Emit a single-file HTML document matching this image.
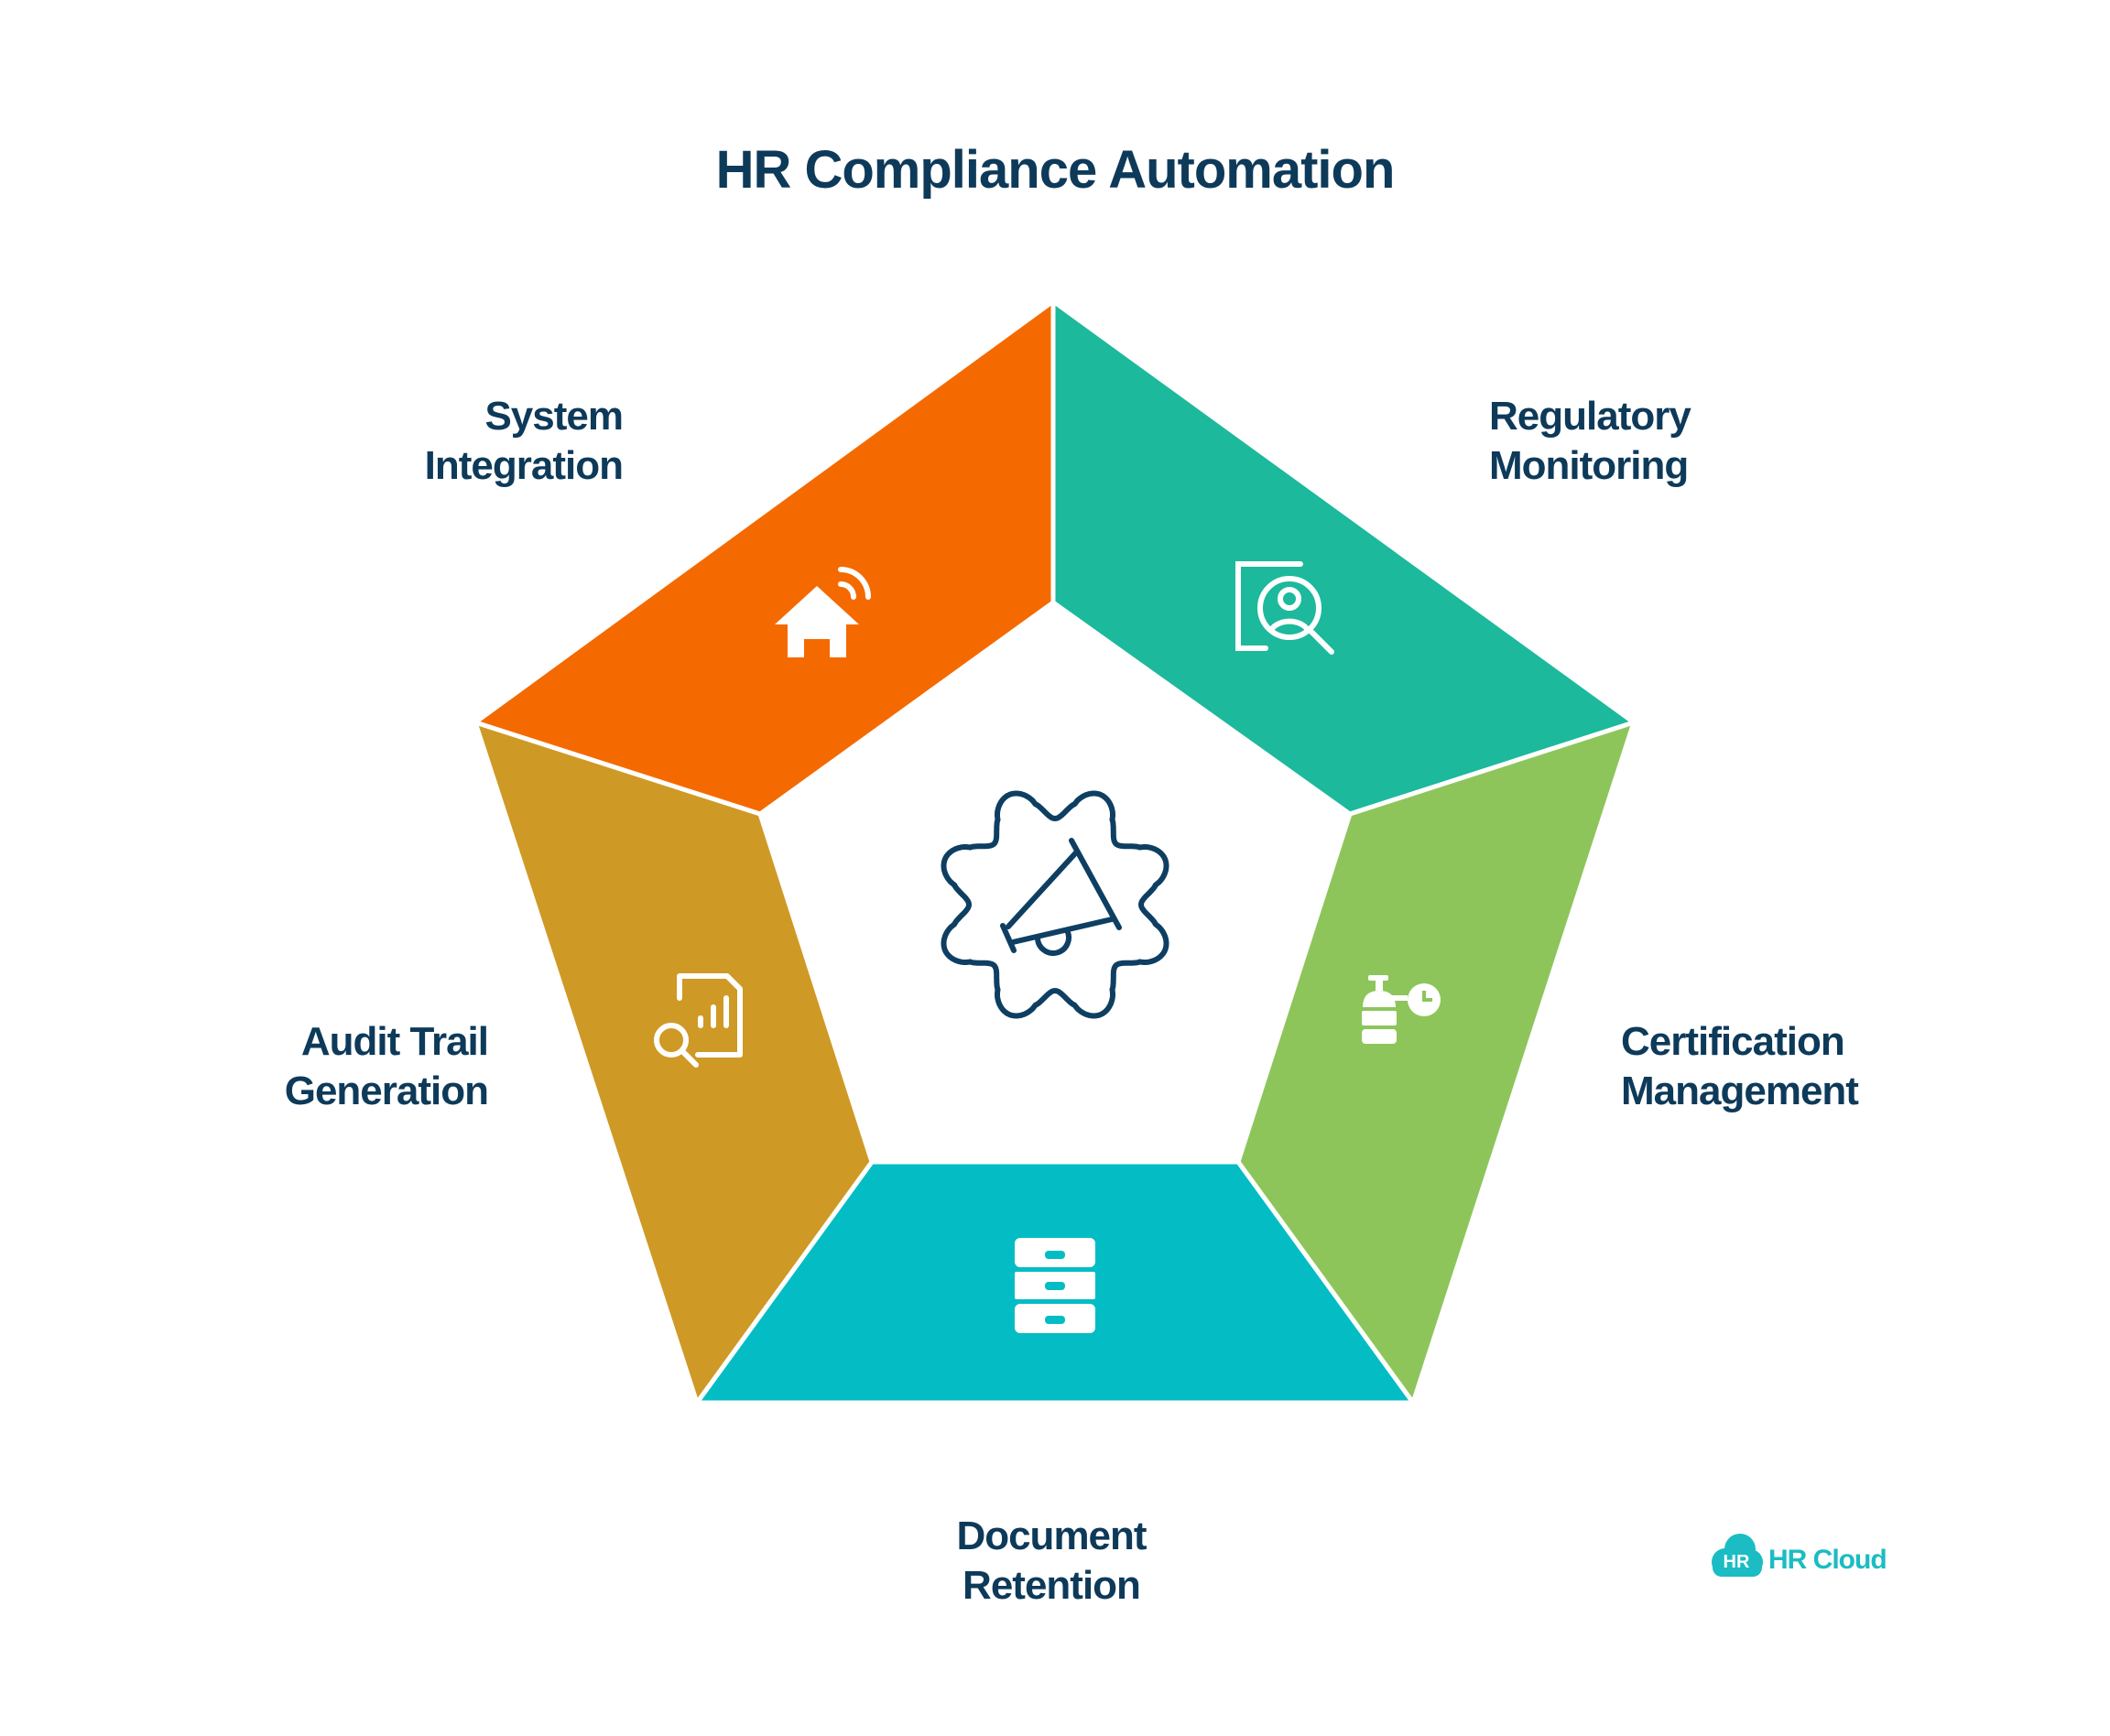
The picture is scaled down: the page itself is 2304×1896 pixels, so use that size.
<!DOCTYPE html>
<html><head><meta charset="utf-8"><style>
html,body{margin:0;padding:0;background:#fff}
body{width:2304px;height:1896px;position:relative;overflow:hidden;font-family:"Liberation Sans",sans-serif;color:#0e3a5a}
.t{position:absolute;font-weight:bold;font-size:44px;line-height:54px;letter-spacing:-1px}
</style></head><body>
<div class="t" style="left:0;width:2304px;top:148px;text-align:center;font-size:58px;line-height:76px">HR Compliance Automation</div>
<div class="t" style="right:1624px;top:428px;text-align:right">System<br>Integration</div>
<div class="t" style="left:1626px;top:428px">Regulatory<br>Monitoring</div>
<div class="t" style="right:1771px;top:1111px;text-align:right">Audit Trail<br>Generation</div>
<div class="t" style="left:1770px;top:1111px">Certification<br>Management</div>
<div class="t" style="left:0;width:2296px;top:1651px;text-align:center">Document<br>Retention</div>
<svg width="2304" height="1896" style="position:absolute;left:0;top:0">
<g stroke="#fff" stroke-width="5" stroke-linejoin="miter">
<polygon points="1150,329 1150,658 830,889 519,789" fill="#f46a00"/>
<polygon points="1150,329 1784,789 1474,889 1150,658" fill="#1cb99c"/>
<polygon points="1784,789 1543,1532 1352,1269 1474,889" fill="#8dc55b"/>
<polygon points="1543,1532 761,1532 952,1269 1352,1269" fill="#04bdc4"/>
<polygon points="761,1532 519,789 830,889 952,1269" fill="#cf9925"/>
</g>
<path id="gear" fill="none" stroke="#0e3f62" stroke-width="6"/>
<g fill="none" stroke="#0e3f62" stroke-width="6" stroke-linecap="round">
<line x1="1170" y1="918" x2="1222" y2="1013"/>
<line x1="1176" y1="930" x2="1101" y2="1012"/>
<line x1="1214" y1="1004" x2="1106" y2="1029"/>
<line x1="1095" y1="1011" x2="1107" y2="1038"/>
<path d="M1133 1024 a17 17 0 1 0 32 -8"/>
</g>
<g fill="#fff">
<polygon points="892,640 846,682 860,682 860,718 878,718 878,698 906,698 906,718 924,718 924,682 938,682"/>
</g>
<g fill="none" stroke="#fff" stroke-width="6" stroke-linecap="round">
<path d="M918 638 a14 14 0 0 1 14 14"/>
<path d="M918 622 a30 30 0 0 1 30 30"/>
</g>
<g fill="none" stroke="#fff" stroke-width="6" stroke-linecap="round">
<path d="M1420 616 h-68 v92 h30"/>
<circle cx="1408" cy="664" r="32"/>
<circle cx="1408" cy="654" r="10"/>
<path d="M1388 688 a22 16 0 0 1 40 0"/>
<line x1="1432" y1="690" x2="1454" y2="712"/>
</g>
<g fill="#fff">
<rect x="1494" y="1065" width="22" height="6" rx="2"/>
<rect x="1502" y="1070" width="8" height="12"/>
<path d="M1488 1100 q0 -18 18 -18 q18 0 18 18 z"/>
<rect x="1487" y="1104" width="38" height="16" rx="2"/>
<rect x="1487" y="1124" width="38" height="16" rx="4"/>
<rect x="1515" y="1087" width="22" height="6"/>
<circle cx="1555" cy="1092" r="18"/>
</g>
<path d="M1555 1082 v10 h9" stroke="#8dc55b" stroke-width="4" fill="none"/>
<g fill="#fff">
<rect x="1108" y="1352" width="88" height="32" rx="6"/>
<rect x="1108" y="1389" width="88" height="30" rx="2"/>
<rect x="1108" y="1424" width="88" height="32" rx="6"/>
</g>
<g fill="#04bdc4">
<rect x="1141" y="1366" width="22" height="9" rx="4"/>
<rect x="1141" y="1400" width="22" height="9" rx="4"/>
<rect x="1141" y="1437" width="22" height="9" rx="4"/>
</g>
<g fill="none" stroke="#fff" stroke-width="6" stroke-linecap="round" stroke-linejoin="round">
<path d="M742 1090 v-24 h52 l14 14 v72 h-46"/>
<line x1="765" y1="1120" x2="765" y2="1112"/>
<line x1="779" y1="1120" x2="779" y2="1100"/>
<line x1="793" y1="1120" x2="793" y2="1090"/>
<circle cx="733" cy="1136" r="16"/>
<line x1="745" y1="1148" x2="760" y2="1163"/>
</g>
<g fill="#1bbcc3">
<circle cx="1884" cy="1706" r="15"/><circle cx="1900" cy="1692" r="17"/><circle cx="1911" cy="1706" r="14"/>
<rect x="1870" y="1700" width="54" height="22" rx="10"/>
</g>
<text x="1896" y="1712" font-family="Liberation Sans,sans-serif" font-weight="bold" font-size="20" fill="#fff" text-anchor="middle">HR</text>
<text x="1931" y="1713" font-family="Liberation Sans,sans-serif" font-weight="bold" font-size="30" fill="#1bbcc3" letter-spacing="-1">HR Cloud</text>
</svg>
<script>
(function(){var cx=1152,cy=988,R=112,a=18,n=8,d="";for(var i=0;i<=720;i++){var t=i*Math.PI/360;var c=Math.cos(n*(t+Math.PI/2-Math.PI/8));var r=R+a*(c>0?Math.pow(c,0.7):-Math.pow(-c,1.3));var x=cx+r*Math.cos(t),y=cy+r*Math.sin(t);d+=(i?"L":"M")+x.toFixed(1)+" "+y.toFixed(1);}document.getElementById("gear").setAttribute("d",d+"Z");})();
</script>
</body></html>
